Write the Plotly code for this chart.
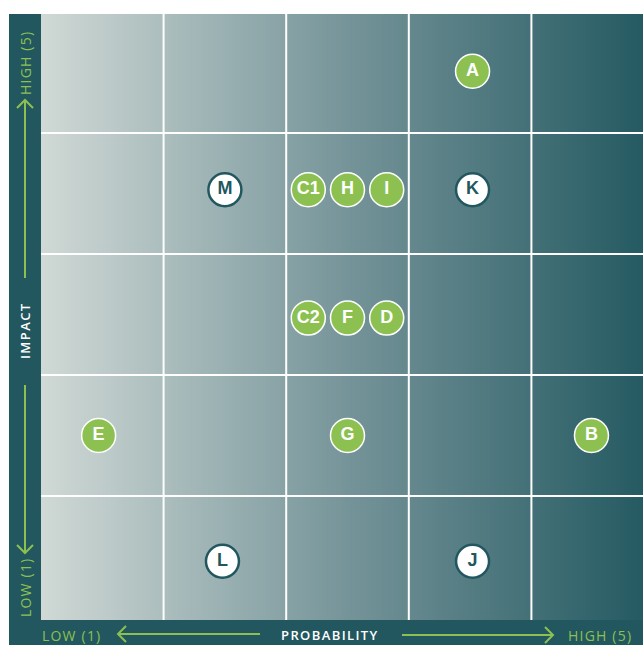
import numpy as np
import plotly.graph_objects as go

# Risk register: position on the 5x5 probability / impact grid
risk_ids = ["A", "B", "C1", "C2", "D", "E", "F", "G", "H", "I", "J", "K", "L", "M"]
probability = [4.02, 4.99, 2.68, 2.68, 3.32, 0.97, 3.0, 3.0, 3.0, 3.32, 4.02, 4.02, 1.98, 2.0]
impact = [5.01, 2.0, 4.03, 2.97, 2.97, 2.0, 2.97, 2.0, 4.03, 4.03, 0.96, 4.03, 0.96, 4.03]
# "new" risks are drawn as outlined white circles, the rest as filled green
is_new = [False, False, False, False, False, False, False, False, False, False, True, True, True, True]

FRAME = "#22575f"
GREEN = "#8cc152"
WHITE = "#ffffff"

W, H = 643, 645
ML, MR, MT, MB = 41, 0, 14, 25
PW, PH = W - ML - MR, H - MT - MB

X_RANGE = [0.5, 0.5 + PW / 122.6]
Y_RANGE = [0.475, 5.483]


def px_x(p):
    return (p - ML) / PW


def px_y(p):
    return (H - MB - p) / PH


def spaced(s, sp=1.2):
    return f'<span style="letter-spacing:{sp}px">{s}</span>'


fig = go.Figure()

# horizontal background gradient (light grey to deep teal)
gx = np.linspace(0.5, 5.5, 200)
fig.add_trace(go.Heatmap(
    x=gx, y=Y_RANGE, z=[gx, gx],
    colorscale=[[0, "#d0d9d6"], [0.5, "#759499"], [1, "#225860"]],
    showscale=False, hoverinfo="skip", zsmooth="best",
))

green_idx = [i for i, n in enumerate(is_new) if not n]
white_idx = [i for i, n in enumerate(is_new) if n]

fig.add_trace(go.Scatter(
    x=[probability[i] for i in green_idx], y=[impact[i] for i in green_idx],
    text=[risk_ids[i] for i in green_idx], mode="markers+text",
    marker=dict(size=34, color=GREEN, line=dict(color=WHITE, width=1.5)),
    textfont=dict(color=WHITE, size=18, family="Liberation Sans", weight=700),
    textposition="middle center", hoverinfo="text", showlegend=False,
))
fig.add_trace(go.Scatter(
    x=[probability[i] for i in white_idx], y=[impact[i] for i in white_idx],
    text=[risk_ids[i] for i in white_idx], mode="markers+text",
    marker=dict(size=33, color=WHITE, line=dict(color=FRAME, width=2.5)),
    textfont=dict(color=FRAME, size=18, family="Liberation Sans", weight=700),
    textposition="middle center", hoverinfo="text", showlegend=False,
))

shapes = []
# dark frame behind the plot area
shapes.append(dict(type="rect", xref="paper", yref="paper", layer="below",
                   x0=px_x(9), x1=px_x(W + 5), y0=px_y(H + 5), y1=px_y(14),
                   fillcolor=FRAME, line=dict(width=0)))
# white cell dividers
for v in [1.5, 2.5, 3.5, 4.5]:
    shapes.append(dict(type="line", xref="x", yref="y", x0=v, x1=v,
                       y0=Y_RANGE[0], y1=Y_RANGE[1], line=dict(color=WHITE, width=2)))
    shapes.append(dict(type="line", xref="x", yref="y", x0=X_RANGE[0], x1=5.5,
                       y0=v, y1=v, line=dict(color=WHITE, width=2)))


def arrow(x0, y0, x1, y1, head=8):
    # straight line with an open chevron at (x1, y1), pixel coordinates
    d = np.array([x1 - x0, y1 - y0], dtype=float)
    d /= np.linalg.norm(d)
    n = np.array([-d[1], d[0]])
    tip = np.array([x1, y1], dtype=float)
    a = tip - d * head + n * head
    b = tip - d * head - n * head
    path = f"M{px_x(x0)},{px_y(y0)} L{px_x(x1)},{px_y(y1)} " \
           f"M{px_x(a[0])},{px_y(a[1])} L{px_x(x1)},{px_y(y1)} L{px_x(b[0])},{px_y(b[1])}"
    return dict(type="path", xref="paper", yref="paper", path=path,
                line=dict(color=GREEN, width=2))


shapes.append(arrow(25, 278, 25, 100))
shapes.append(arrow(25, 385, 25, 553))
shapes.append(arrow(260, 634, 118, 634))
shapes.append(arrow(402, 635, 553, 635))

lab_font = dict(family="Open Sans", size=14, weight=500)
annotations = [
    dict(text=spaced("HIGH (5)"), x=px_x(25), y=px_y(63), textangle=-90,
         font=dict(color=GREEN, **lab_font)),
    dict(text=spaced("LOW (1)"), x=px_x(25), y=px_y(588), textangle=-90,
         font=dict(color=GREEN, **lab_font)),
    dict(text=spaced("IMPACT", 1.4), x=px_x(25), y=px_y(331), textangle=-90,
         font=dict(color=WHITE, family="Open Sans", size=13, weight=600)),
    dict(text=spaced("LOW (1)"), x=px_x(71), y=px_y(635),
         font=dict(color=GREEN, **lab_font)),
    dict(text=spaced("HIGH (5)"), x=px_x(600), y=px_y(635),
         font=dict(color=GREEN, **lab_font)),
    dict(text=spaced("PROBABILITY", 1.4), x=px_x(330), y=px_y(635),
         font=dict(color=WHITE, family="Open Sans", size=13, weight=600)),
]
for a in annotations:
    a.update(xref="paper", yref="paper", showarrow=False, xanchor="center", yanchor="middle")

fig.update_layout(
    width=W, height=H,
    margin=dict(l=ML, r=MR, t=MT, b=MB, pad=0),
    paper_bgcolor=WHITE, plot_bgcolor=WHITE,
    xaxis=dict(range=X_RANGE, showgrid=False, zeroline=False,
               showticklabels=False, ticks="", fixedrange=True),
    yaxis=dict(range=Y_RANGE, showgrid=False, zeroline=False,
               showticklabels=False, ticks="", fixedrange=True),
    shapes=shapes, annotations=annotations, showlegend=False,
)

fig.write_html("out.html")
